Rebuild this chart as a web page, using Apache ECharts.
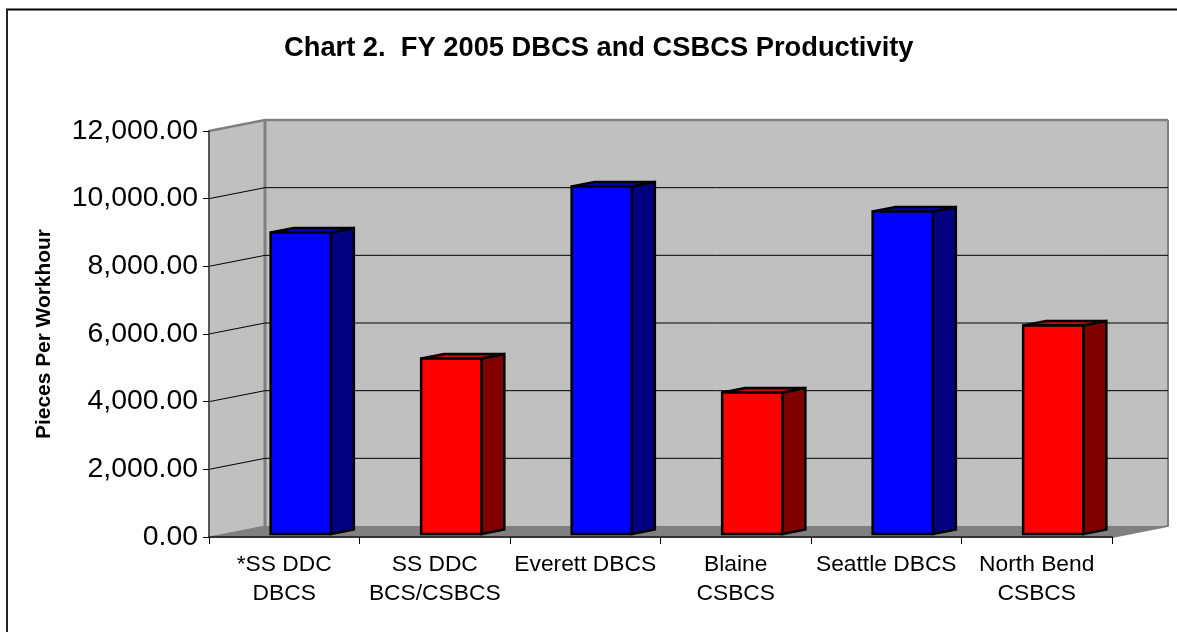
<!DOCTYPE html>
<html>
<head>
<meta charset="utf-8">
<style>html,body{margin:0;padding:0;background:#fff}#c{width:1177px;height:632px}</style>
<script src="https://cdn.jsdelivr.net/npm/echarts@6/dist/echarts.min.js"></script>
</head>
<body>
<div id="c"></div>
<script>
const categories = ['*SS DDC\nDBCS', 'SS DDC\nBCS/CSBCS', 'Everett DBCS', 'Blaine\nCSBCS', 'Seattle DBCS', 'North Bend\nCSBCS'];
const machineTypes = ['DBCS', 'CSBCS', 'DBCS', 'CSBCS', 'DBCS', 'CSBCS'];
const productivity = [8910, 5190, 10270, 4180, 9530, 6160];
const yTicks = [2000, 4000, 6000, 8000, 10000, 12000];
const titleText = 'Chart 2.  FY 2005 DBCS and CSBCS Productivity';
const yAxisTitle = 'Pieces Per Workhour';

const DX = 56, DY = -11;
const BAR_DX = 23, BAR_DY = -4.5, BAR_SHIFT = 16.5, BAR_RISE = -3, BAR_RATIO = 0.4;
const FONT = '"Liberation Sans", Arial, sans-serif';
const palette = {
  DBCS: { face: '#0000FF', top: '#0000CC', side: '#000080' },
  CSBCS: { face: '#FF0000', top: '#CC0000', side: '#800000' }
};

function poly(points, fill, stroke, lineWidth) {
  return { type: 'polygon', shape: { points },
    style: { fill, stroke: stroke || null, lineWidth: lineWidth || 0, lineJoin: 'miter' } };
}
function renderPanels(params, api) {
  const cs = params.coordSys;
  const yBase = api.coord([0, 0])[1];
  const yTop = api.coord([0, 12000])[1];
  const xL = cs.x, xR = cs.x + cs.width;
  return { type: 'group', children: [
    poly([[xL + DX, yTop + DY], [xR + DX, yTop + DY], [xR + DX, yBase + DY], [xL + DX, yBase + DY]], '#C0C0C0'),
    poly([[xL, yTop], [xL + DX, yTop + DY], [xL + DX, yBase + DY], [xL, yBase]], '#C0C0C0'),
    poly([[xL, yBase], [xL + DX, yBase + DY], [xR + DX, yBase + DY], [xR, yBase]], '#808080'),
    { type: 'polyline', shape: { points: [[xL + DX, yBase + DY], [xL + DX, yTop + DY]] },
      style: { stroke: '#808080', lineWidth: 3, fill: null } },
    { type: 'polyline', shape: { points: [[xL + DX, yBase + DY], [xL, yBase]] },
      style: { stroke: '#808080', lineWidth: 1, fill: null } },
    { type: 'polyline', shape: { points: [[xR + DX, yTop + DY], [xR + DX, yBase + DY], [xR, yBase]] },
      style: { stroke: '#808080', lineWidth: 2, fill: null } }
  ] };
}
function renderGrid(params, api) {
  const cs = params.coordSys;
  const v = api.value(1);
  const y = api.coord([0, v])[1];
  const xL = cs.x, xR = cs.x + cs.width;
  const top = v === 12000;
  return { type: 'polyline', shape: { points: [[xL, y], [xL + DX, y + DY], [xR + DX, y + DY]] },
    style: { stroke: top ? '#808080' : '#000000', lineWidth: top ? 2.5 : 1, fill: null } };
}
function renderBar(params, api) {
  const p = api.coord([api.value(0), api.value(1)]);
  const base = api.coord([api.value(0), 0])[1] + BAR_RISE;
  const top = p[1] + BAR_RISE;
  const w = api.size([1, 0])[0] * BAR_RATIO;
  const l = p[0] + BAR_SHIFT - w / 2, r = l + w;
  const c = palette[machineTypes[params.dataIndex]];
  return { type: 'group', children: [
    poly([[r, base], [r + BAR_DX, base + BAR_DY], [r + BAR_DX, top + BAR_DY], [r, top]], c.side, '#000', 2.5),
    poly([[l, top], [l + BAR_DX, top + BAR_DY], [r + BAR_DX, top + BAR_DY], [r, top]], c.top, '#000', 2.5),
    poly([[l, top], [r, top], [r, base], [l, base]], c.face, '#000', 2.5)
  ] };
}

const chart = echarts.init(document.getElementById('c'), null, { renderer: 'canvas' });
chart.setOption({
  animation: false,
  backgroundColor: '#fff',
  title: {
    text: titleText, left: 279, top: 30,
    textStyle: { fontFamily: FONT, fontSize: 27.3, fontWeight: 'bold', color: '#000' }
  },
  grid: { left: 209, top: 131, width: 903, height: 406, containLabel: false },
  xAxis: {
    type: 'category', data: categories, z: 3,
    axisLine: { lineStyle: { color: '#333', width: 2 } },
    axisTick: { show: true, length: 7, lineStyle: { color: '#000', width: 1 } },
    axisLabel: { interval: 0, margin: 13, lineHeight: 29, fontFamily: FONT, fontSize: 22.8, color: '#000' },
    splitLine: { show: false }
  },
  yAxis: {
    type: 'value', min: 0, max: 12000, interval: 2000, z: 3,
    name: yAxisTitle, nameLocation: 'middle', nameRotate: 90, nameGap: 154,
    nameTextStyle: { fontFamily: FONT, fontSize: 20.9, fontWeight: 'bold', color: '#000' },
    axisLine: { show: true, lineStyle: { color: '#555', width: 2 } },
    axisTick: { show: true, length: 6, lineStyle: { color: '#000', width: 1 } },
    axisLabel: { margin: 11, fontFamily: FONT, fontSize: 28.4, color: '#000',
      formatter: v => v.toLocaleString('en-US', { minimumFractionDigits: 2, maximumFractionDigits: 2 }) },
    splitLine: { show: false }
  },
  graphic: [
    { type: 'line', silent: true, shape: { x1: 6, y1: 9.5, x2: 1177, y2: 9.5 }, style: { stroke: '#000', lineWidth: 2 } },
    { type: 'line', silent: true, shape: { x1: 7, y1: 9, x2: 7, y2: 632 }, style: { stroke: '#222', lineWidth: 2 } }
  ],
  series: [
    { type: 'custom', name: 'walls', z: 1, clip: false, silent: true, renderItem: renderPanels,
      encode: { x: 0, y: 1 }, data: [[0, 0]] },
    { type: 'custom', name: 'gridlines', z: 2, clip: false, silent: true, renderItem: renderGrid,
      encode: { x: 0, y: 1 }, data: yTicks.map(v => [0, v]) },
    { type: 'custom', name: 'Pieces Per Workhour', z: 4, clip: false, renderItem: renderBar,
      encode: { x: 0, y: 1 }, data: productivity.map((v, i) => [i, v]) }
  ]
});
</script>
</body>
</html>
